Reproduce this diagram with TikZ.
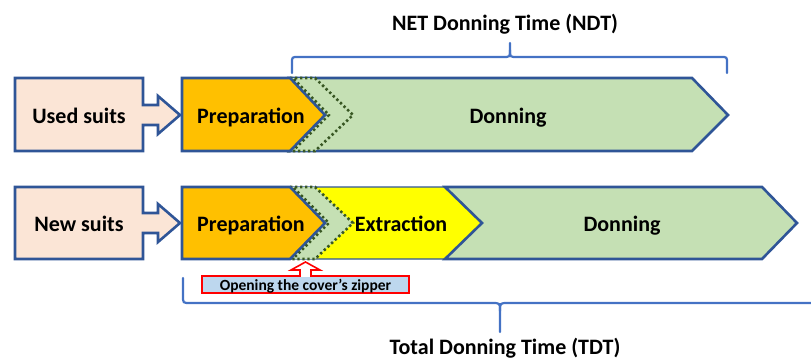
\documentclass[tikz,border=0pt]{standalone}
\usepackage{fontspec}
\setmainfont{Carlito}
\begin{document}
\begin{tikzpicture}[x=1pt,y=-1pt,
  edge/.style={draw=blueE, line width=2.6pt, line join=miter},
  lbl/.style={font=\fontsize{22}{26}\selectfont\bfseries, inner sep=0pt, anchor=base},
  dotchev/.style={draw=dgreen, fill=lgreen, line width=2.6pt, dash pattern=on 2.4pt off 2.6pt},
  dotline/.style={draw=dgreen, line width=2.4pt, dash pattern=on 2.4pt off 2.6pt},
  brace/.style={draw=braceB, line width=2.2pt, line cap=round}]
\definecolor{blueE}{HTML}{2F5597}
\definecolor{peach}{HTML}{FBE5D6}
\definecolor{prep}{HTML}{FFC000}
\definecolor{lgreen}{HTML}{C5E0B4}
\definecolor{dgreen}{HTML}{385723}
\definecolor{yel}{HTML}{FFFF00}
\definecolor{braceB}{HTML}{4472C4}
\definecolor{zipB}{HTML}{BDD7EE}
\definecolor{zipR}{HTML}{FF0000}
\useasboundingbox (0,0) rectangle (811,359);
\clip (0,0) rectangle (811,359);

% ---------- Row 1 ----------
\path[edge, fill=peach] (15,78) -- (143,78) -- (143,105) -- (158,105) -- (158,96) -- (180,115) -- (158,134) -- (158,125) -- (143,125) -- (143,151) -- (15,151) -- cycle;
\node[lbl] (used) at (79,123) {Used suits};

\path[edge, fill=lgreen] (290,78) -- (692,78) -- (728,115) -- (692,151) -- (290,151) -- (325,115) -- cycle;
\path[dotchev] (290,78) -- (315,78) -- (353,115) -- (315,151) -- (290,151) -- (325,115) -- cycle;
\path[edge, fill=prep] (182,78) -- (290,78) -- (325,115) -- (290,151) -- (182,151) -- cycle;
\path[dotline] (294,79) -- (329,115) -- (294,150);
\node[lbl] (prep1) at (251,123) {Preparation};
\node[lbl] (don1) at (508,123) {Donning};

% ---------- Row 2 ----------
\path[edge, fill=peach] (15,187) -- (143,187) -- (143,213) -- (158,213) -- (158,204) -- (180,223) -- (158,242) -- (158,233) -- (143,233) -- (143,259) -- (15,259) -- cycle;
\node[lbl] (new) at (79,231) {New suits};

\path[draw=blueE, line width=1.2pt, fill=yel] (290,187) -- (445,187) -- (482,223) -- (445,259) -- (290,259) -- (325,223) -- cycle;
\path[edge, fill=lgreen] (445,187) -- (762,187) -- (797,223) -- (762,259) -- (445,259) -- (482,223) -- cycle;
\path[dotchev] (290,187) -- (315,187) -- (353,223) -- (315,259) -- (290,259) -- (325,223) -- cycle;
\path[edge, fill=prep] (182,187) -- (290,187) -- (325,223) -- (290,259) -- (182,259) -- cycle;
\path[dotline] (294,188) -- (329,223) -- (294,258);
\node[lbl] (prep2) at (251,231) {Preparation};
\node[lbl] (extr) at (401,231) {Extraction};
\node[lbl] (don2) at (622,231) {Donning};

% ---------- Zipper label ----------
\path[draw=zipR, line width=1.6pt, fill=white] (300,277) -- (300,270) -- (291,270) -- (305.5,262) -- (320,270) -- (311,270) -- (311,277);
\path[draw=zipR, line width=1.6pt, fill=zipB] (202,276) rectangle (409,293);
\fill[white] (301,274) rectangle (310,277.2);
\node[font=\fontsize{15.5}{18}\selectfont\bfseries, inner sep=0pt, anchor=base] (zip) at (305.5,290) {Opening the cover’s zipper};

% ---------- Braces ----------
\path[brace] (292,73) -- (292,63) .. controls (292,57) .. (298,57) -- (503,57) .. controls (510,57) .. (510,50) -- (510,43);
\path[brace] (510,50) .. controls (510,57) .. (517,57) -- (721,57) .. controls (727,57) .. (727,63) -- (727,73);
\node[lbl] (ndt) at (505,30) {NET Donning Time (NDT)};

\path[brace] (183,278) -- (183,296) .. controls (183,303) .. (190,303) -- (492,303) .. controls (500,303) .. (500,311) -- (500,332);
\path[brace] (500,311) .. controls (500,303) .. (508,303) -- (815,303);
\node[lbl] (tdt) at (505,354) {Total Donning Time (TDT)};
\end{tikzpicture}
\end{document}
